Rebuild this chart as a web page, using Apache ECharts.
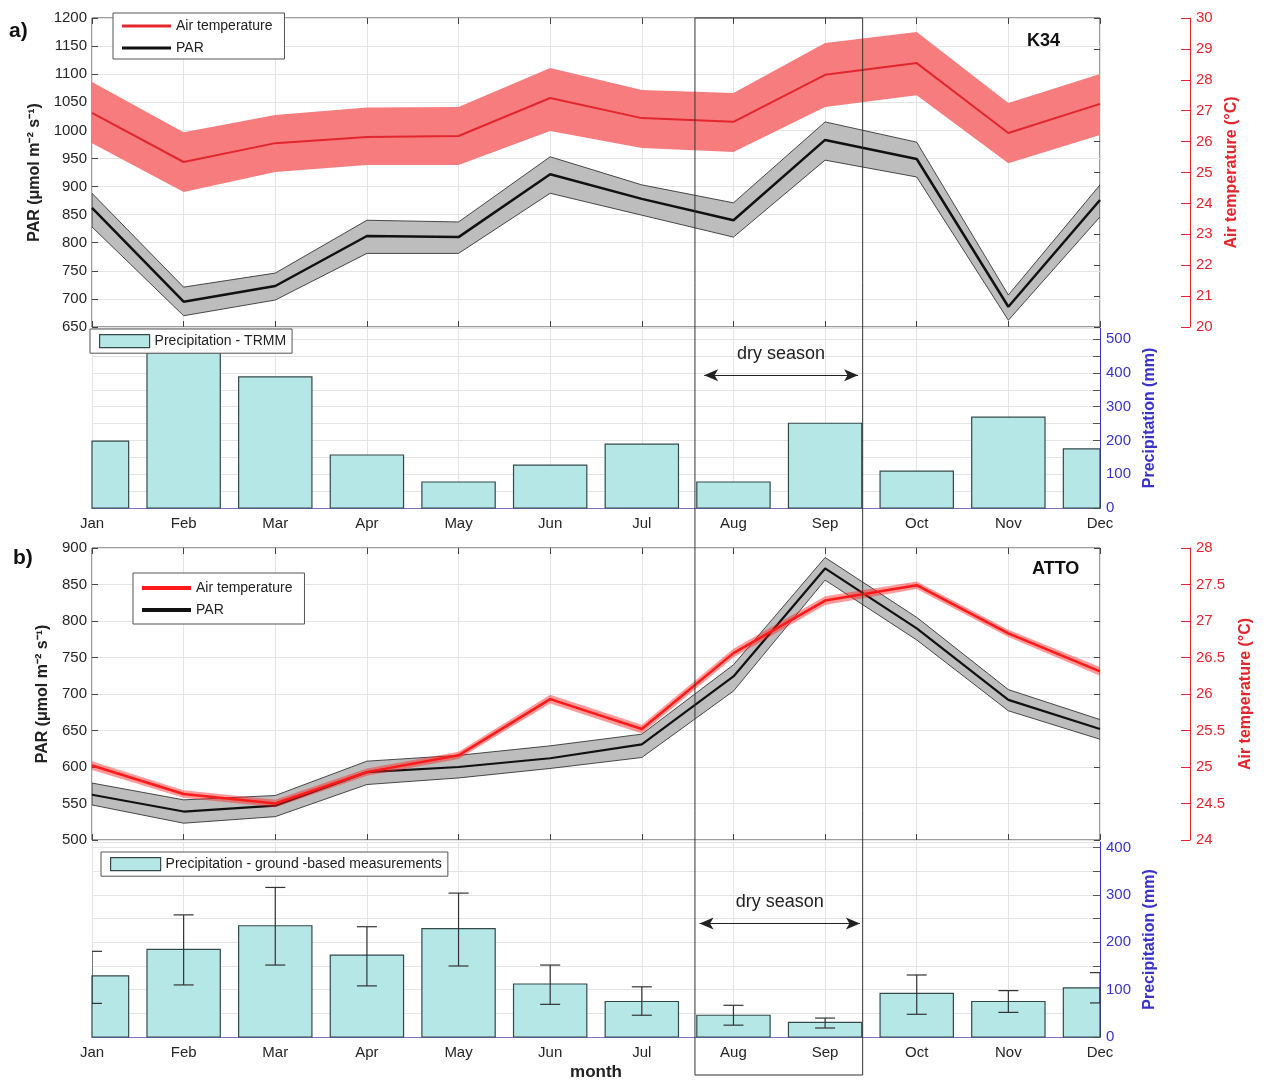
<!DOCTYPE html>
<html>
<head>
<meta charset="utf-8">
<script src="https://cdn.jsdelivr.net/npm/echarts@6/dist/echarts.min.js"></script>
<style>
  html, body { margin: 0; padding: 0; background: #fff; }
  #chart { width: 1266px; height: 1082px; }
</style>
</head>
<body>
<div id="chart"></div>
<script>
// ---- data -------------------------------------------------------------
const months = ['Jan', 'Feb', 'Mar', 'Apr', 'May', 'Jun', 'Jul', 'Aug', 'Sep', 'Oct', 'Nov', 'Dec'];

// K34 site
const parK34      = [862, 695, 723, 812, 810, 922, 878, 840, 983, 949, 686, 876];
const parK34Upper = [888, 721, 746, 840, 837, 953, 903, 871, 1015, 979, 707, 903];
const parK34Lower = [828, 670, 698, 781, 781, 888, 849, 810, 947, 917, 662, 846];
const tempK34      = [26.93, 25.34, 25.95, 26.15, 26.18, 27.41, 26.76, 26.64, 28.16, 28.54, 26.28, 27.22];
const tempK34Upper = [27.93, 26.30, 26.86, 27.10, 27.12, 28.38, 27.67, 27.57, 29.19, 29.55, 27.25, 28.19];
const tempK34Lower = [25.95, 24.37, 25.02, 25.24, 25.24, 26.34, 25.79, 25.66, 27.12, 27.50, 25.30, 26.21];
const precipTRMM   = [198, 459, 388, 157, 77, 127, 189, 77, 251, 109, 269, 175];

// ATTO site
const parATTO      = [562, 539, 547, 593, 600, 612, 631, 724, 872, 790, 692, 652];
const parATTOUpper = [578, 555, 561, 608, 616, 629, 645, 740, 887, 805, 706, 665];
const parATTOLower = [548, 523, 532, 576, 585, 598, 613, 704, 856, 774, 677, 638];
const tempATTO      = [25.02, 24.63, 24.50, 24.93, 25.16, 25.93, 25.52, 26.56, 27.28, 27.49, 26.83, 26.31];
const tempATTOUpper = [25.08, 24.68, 24.55, 24.98, 25.21, 25.99, 25.58, 26.62, 27.34, 27.54, 26.88, 26.37];
const tempATTOLower = [24.96, 24.58, 24.45, 24.88, 25.11, 25.87, 25.46, 26.50, 27.22, 27.44, 26.78, 26.25];
const precipGround     = [129, 185, 235, 173, 229, 112, 75, 46, 31, 92, 75, 104];
const precipGroundLow  = [71, 110, 152, 108, 150, 69, 46, 25, 19, 48, 52, 72];
const precipGroundHigh = [181, 258, 316, 233, 304, 152, 106, 67, 40, 131, 98, 136];

// dry season (month units on the x axis)
const dryBox = [7.58, 9.41];
const dryArrowK34 = [7.68, 9.36];
const dryArrowATTO = [7.63, 9.38];
const dryArrowLevelK34 = 393;
const dryArrowLevelATTO = 240;

// ---- helpers ----------------------------------------------------------
const FONT = 'Liberation Sans, Arial, Helvetica, sans-serif';
const RED = '#e3262e';
const BLUE = '#3a33c8';
const GRID_LINE = '#e4e4e4';
const BAR_FILL = '#b6e7e7';
const BAR_EDGE = '#34494a';

const pairs = arr => arr.map((v, i) => [i + 1, v]);

function rectOf(coordSys) {
  return { x: coordSys.x, y: coordSys.y, width: coordSys.width, height: coordSys.height };
}

function bandSeries(name, xi, yi, lower, upper, style, z) {
  return {
    type: 'custom', name, xAxisIndex: xi, yAxisIndex: yi, z, silent: true, clip: true,
    data: months.map((m, i) => [i + 1, lower[i], upper[i]]),
    renderItem(params, api) {
      if (params.dataIndex !== 0) return null;
      const pts = [];
      for (let i = 0; i < months.length; i++) pts.push(api.coord([i + 1, upper[i]]));
      for (let i = months.length - 1; i >= 0; i--) pts.push(api.coord([i + 1, lower[i]]));
      return { type: 'polygon', shape: { points: pts }, style };
    }
  };
}

function lineSeries(name, xi, yi, values, color, width, z) {
  return {
    type: 'line', name, xAxisIndex: xi, yAxisIndex: yi, z, silent: true,
    data: pairs(values), symbol: 'none', showSymbol: false,
    lineStyle: { color, width }, itemStyle: { color }
  };
}

// monthly bars, cut at the plot frame
function barSeries(name, xi, yi, values, arrow, arrowLevel) {
  return {
    type: 'custom', name, xAxisIndex: xi, yAxisIndex: yi, z: 3, silent: true,
    data: pairs(values),
    itemStyle: { color: BAR_FILL, borderColor: BAR_EDGE, borderWidth: 1.2 },
    renderItem(params, api) {
      const x = api.value(0);
      const top = api.coord([x, api.value(1)]);
      const base = api.coord([x, 0]);
      const w = api.size([1, 0])[0] * 0.8;
      const shape = echarts.graphic.clipRectByRect(
        { x: top[0] - w / 2, y: top[1], width: w, height: base[1] - top[1] },
        rectOf(params.coordSys)
      );
      return shape && {
        type: 'rect', shape,
        style: { fill: BAR_FILL, stroke: BAR_EDGE, lineWidth: 1.2 }
      };
    },
    markLine: {
      silent: true, symbol: ['arrow', 'arrow'], symbolSize: [9, 14], precision: 2,
      lineStyle: { color: '#222', width: 1.2, type: 'solid' },
      label: { show: true, position: 'middle', formatter: 'dry season', fontSize: 18, color: '#222', distance: 12, fontFamily: FONT },
      data: [[{ coord: [arrow[0], arrowLevel] }, { coord: [arrow[1], arrowLevel] }]]
    }
  };
}

function monthAxis(gridIndex, opts) {
  return Object.assign({
    type: 'value', gridIndex, min: 1, max: 12, interval: 1,
    axisLine: { show: false },
    axisTick: { show: true, inside: true, length: 6, lineStyle: { color: '#444' } },
    axisLabel: { show: false },
    splitLine: { show: true, lineStyle: { color: GRID_LINE, width: 1 } }
  }, opts);
}

const tickLabel = { fontSize: 15, color: '#262626', fontFamily: FONT, formatter: v => String(v) };
const axisNameStyle = (color) => ({ fontSize: 16, fontWeight: 'bold', color, fontFamily: FONT });

const monthLabel = {
  show: true, fontSize: 15, color: '#262626', fontFamily: FONT, margin: 8,
  formatter: v => months[Math.round(v) - 1] || ''
};

const legendBox = {
  selectedMode: false, borderColor: '#555', borderWidth: 1, backgroundColor: '#fff',
  textStyle: { fontSize: 14, color: '#222', fontFamily: FONT }
};

// ---- chart ------------------------------------------------------------
const chart = echarts.init(document.getElementById('chart'), null, { renderer: 'canvas' });

const option = {
  animation: false,
  backgroundColor: '#fff',
  textStyle: { fontFamily: FONT },
  grid: [
    { left: 92, top: 18, width: 1008, height: 309, show: true, borderColor: '#3a3a3a', borderWidth: 1 },
    { left: 92, top: 328, width: 1008, height: 180 },
    { left: 92, top: 548, width: 1008, height: 292, show: true, borderColor: '#3a3a3a', borderWidth: 1 },
    { left: 92, top: 842, width: 1008, height: 198 }
  ],
  xAxis: [
    monthAxis(0, {}),
    monthAxis(0, { position: 'top', splitLine: { show: false } }),
    monthAxis(1, {
      axisLine: { show: true, lineStyle: { color: '#7d70c8', width: 1 } },
      axisLabel: monthLabel
    }),
    monthAxis(2, {}),
    monthAxis(2, { position: 'top', splitLine: { show: false } }),
    monthAxis(3, {
      axisLine: { show: true, lineStyle: { color: '#7d70c8', width: 1 } },
      axisLabel: monthLabel,
      name: 'month', nameLocation: 'middle', nameGap: 27,
      nameTextStyle: { fontSize: 17, fontWeight: 'bold', color: '#222', fontFamily: FONT }
    })
  ],
  yAxis: [
    // 0: PAR K34
    {
      type: 'value', gridIndex: 0, position: 'left', min: 650, max: 1200, interval: 50,
      axisLine: { show: false },
      axisTick: { show: true, inside: true, length: 6, lineStyle: { color: '#444' } },
      axisLabel: Object.assign({}, tickLabel, { margin: 5 }),
      splitLine: { show: true, lineStyle: { color: GRID_LINE } },
      name: 'PAR (\u03bcmol m\u207b\u00b2 s\u207b\u00b9)', nameLocation: 'middle', nameRotate: 90, nameGap: 42,
      nameTextStyle: axisNameStyle('#222')
    },
    // 1: air temperature K34 (offset axis)
    {
      type: 'value', gridIndex: 0, position: 'right', offset: 90, min: 20, max: 30, interval: 1,
      axisLine: { show: true, lineStyle: { color: RED, width: 1 } },
      axisTick: { show: true, inside: true, length: 9, lineStyle: { color: RED } },
      axisLabel: Object.assign({}, tickLabel, { color: RED, margin: 6 }),
      splitLine: { show: false },
      name: 'Air temperature (\u00b0C)', nameLocation: 'middle', nameRotate: 90, nameGap: 32,
      nameTextStyle: axisNameStyle(RED)
    },
    // 2: temperature ticks on the plot frame
    {
      type: 'value', gridIndex: 0, position: 'right', min: 20, max: 30, interval: 1,
      axisLine: { show: false },
      axisTick: { show: true, inside: true, length: 6, lineStyle: { color: '#444' } },
      axisLabel: { show: false }, splitLine: { show: false }
    },
    // 3: TRMM precipitation
    {
      type: 'value', gridIndex: 1, position: 'right', min: 0, max: 533, interval: 50,
      axisLine: { show: true, lineStyle: { color: BLUE, width: 1 } },
      axisTick: { show: true, inside: true, length: 7, lineStyle: { color: '#555' } },
      axisLabel: Object.assign({}, tickLabel, {
        color: BLUE, margin: 6, showMaxLabel: false,
        formatter: v => (v % 100 === 0 && v <= 500) ? String(v) : ''
      }),
      splitLine: { show: true, lineStyle: { color: GRID_LINE } },
      name: 'Precipitation (mm)', nameLocation: 'middle', nameRotate: 90, nameGap: 38,
      nameTextStyle: axisNameStyle(BLUE)
    },
    // 4: PAR ATTO
    {
      type: 'value', gridIndex: 2, position: 'left', min: 500, max: 900, interval: 50,
      axisLine: { show: false },
      axisTick: { show: true, inside: true, length: 6, lineStyle: { color: '#444' } },
      axisLabel: Object.assign({}, tickLabel, { margin: 5 }),
      splitLine: { show: true, lineStyle: { color: GRID_LINE } },
      name: 'PAR (\u03bcmol m\u207b\u00b2 s\u207b\u00b9)', nameLocation: 'middle', nameRotate: 90, nameGap: 35,
      nameTextStyle: axisNameStyle('#222')
    },
    // 5: air temperature ATTO (offset axis)
    {
      type: 'value', gridIndex: 2, position: 'right', offset: 90, min: 24, max: 28, interval: 0.5,
      axisLine: { show: true, lineStyle: { color: RED, width: 1 } },
      axisTick: { show: true, inside: true, length: 9, lineStyle: { color: RED } },
      axisLabel: Object.assign({}, tickLabel, { color: RED, margin: 6 }),
      splitLine: { show: false },
      name: 'Air temperature (\u00b0C)', nameLocation: 'middle', nameRotate: 90, nameGap: 48,
      nameTextStyle: axisNameStyle(RED)
    },
    // 6: temperature ticks on the plot frame
    {
      type: 'value', gridIndex: 2, position: 'right', min: 24, max: 28, interval: 0.5,
      axisLine: { show: false },
      axisTick: { show: true, inside: true, length: 6, lineStyle: { color: '#444' } },
      axisLabel: { show: false }, splitLine: { show: false }
    },
    // 7: ground-based precipitation
    {
      type: 'value', gridIndex: 3, position: 'right', min: 0, max: 412, interval: 50,
      axisLine: { show: true, lineStyle: { color: BLUE, width: 1 } },
      axisTick: { show: true, inside: true, length: 7, lineStyle: { color: '#555' } },
      axisLabel: Object.assign({}, tickLabel, {
        color: BLUE, margin: 6, showMaxLabel: false,
        formatter: v => (v % 100 === 0 && v <= 400) ? String(v) : ''
      }),
      splitLine: { show: true, lineStyle: { color: GRID_LINE } },
      name: 'Precipitation (mm)', nameLocation: 'middle', nameRotate: 90, nameGap: 40,
      nameTextStyle: axisNameStyle(BLUE)
    }
  ],
  legend: [
    Object.assign({}, legendBox, {
      left: 113, top: 13, orient: 'vertical',
      padding: [6, 12, 4, 9], itemGap: 8, itemWidth: 49, itemHeight: 3,
      data: [
        { name: 'Air temperature', icon: 'rect', itemStyle: { color: RED } },
        { name: 'PAR', icon: 'rect', itemStyle: { color: '#111' } }
      ]
    }),
    Object.assign({}, legendBox, {
      left: 90, top: 329, padding: [5, 6, 5, 9], itemWidth: 50, itemHeight: 13,
      data: [{ name: 'Precipitation - TRMM', icon: 'rect',
        itemStyle: { color: BAR_FILL, borderColor: BAR_EDGE, borderWidth: 1.2 } }]
    }),
    Object.assign({}, legendBox, {
      left: 133, top: 573, orient: 'vertical',
      padding: [8, 12, 7, 9], itemGap: 8, itemWidth: 49, itemHeight: 4,
      data: [
        { name: 'Air temperature', icon: 'rect', itemStyle: { color: '#ff1a1a' } },
        { name: 'PAR', icon: 'rect', itemStyle: { color: '#111' } }
      ]
    }),
    Object.assign({}, legendBox, {
      left: 101, top: 852, padding: [5, 6, 5, 9], itemWidth: 50, itemHeight: 13,
      data: [{ name: 'Precipitation - ground -based measurements', icon: 'rect',
        itemStyle: { color: BAR_FILL, borderColor: BAR_EDGE, borderWidth: 1.2 } }]
    })
  ],
  series: [
    // K34 panel
    bandSeries('PAR K34 range', 0, 0, parK34Lower, parK34Upper,
      { fill: '#bdbdbd', stroke: '#222', lineWidth: 0.8 }, 2),
    bandSeries('Air temperature K34 range', 0, 1, tempK34Lower, tempK34Upper,
      { fill: '#f67c7e', stroke: null }, 2),
    lineSeries('PAR', 0, 0, parK34, '#111', 2.5, 4),
    lineSeries('Air temperature', 0, 1, tempK34, RED, 2, 4),
    barSeries('Precipitation - TRMM', 2, 3, precipTRMM, dryArrowK34, dryArrowLevelK34),

    // ATTO panel
    bandSeries('PAR ATTO range', 3, 4, parATTOLower, parATTOUpper,
      { fill: '#bdbdbd', stroke: '#222', lineWidth: 0.8 }, 2),
    lineSeries('PAR', 3, 4, parATTO, '#111', 2.2, 4),
    bandSeries('Air temperature ATTO range', 3, 5, tempATTOLower, tempATTOUpper,
      { fill: 'rgba(255,30,30,0.45)', stroke: null }, 5),
    lineSeries('Air temperature', 3, 5, tempATTO, '#ff1a1a', 2.5, 6),
    barSeries('Precipitation - ground -based measurements', 5, 7, precipGround, dryArrowATTO, dryArrowLevelATTO),
    {
      type: 'custom', name: 'precipitation spread', xAxisIndex: 5, yAxisIndex: 7, z: 5, silent: true, clip: true,
      data: months.map((m, i) => [i + 1, precipGroundLow[i], precipGroundHigh[i]]),
      renderItem(params, api) {
        const x = api.value(0);
        const lo = api.coord([x, api.value(1)]);
        const hi = api.coord([x, api.value(2)]);
        const w = 10;
        const st = { stroke: '#333', lineWidth: 1.2 };
        return {
          type: 'group', children: [
            { type: 'line', shape: { x1: lo[0], y1: lo[1], x2: hi[0], y2: hi[1] }, style: st },
            { type: 'line', shape: { x1: lo[0] - w, y1: lo[1], x2: lo[0] + w, y2: lo[1] }, style: st },
            { type: 'line', shape: { x1: hi[0] - w, y1: hi[1], x2: hi[0] + w, y2: hi[1] }, style: st }
          ]
        };
      }
    }
  ]
};

chart.setOption(option);

// dry-season frame spanning both panels, plus panel titles
const bx0 = chart.convertToPixel({ xAxisIndex: 0 }, dryBox[0]);
const bx1 = chart.convertToPixel({ xAxisIndex: 0 }, dryBox[1]);
const byTop = chart.convertToPixel({ yAxisIndex: 0 }, 1200);
const byBottom = chart.convertToPixel({ yAxisIndex: 7 }, 0) + 38;

chart.setOption({
  graphic: [
    {
      id: 'dryFrame', type: 'rect', z: 100, silent: true,
      shape: { x: bx0, y: byTop, width: bx1 - bx0, height: byBottom - byTop },
      style: { fill: 'none', stroke: '#333', lineWidth: 1 }
    },
    { id: 'tagA', type: 'text', left: 9, top: 21, z: 100,
      style: { text: 'a)', font: 'bold 21px ' + FONT, fill: '#111' } },
    { id: 'tagB', type: 'text', left: 13, top: 548, z: 100,
      style: { text: 'b)', font: 'bold 21px ' + FONT, fill: '#111' } },
    { id: 'siteA', type: 'text', left: 1027, top: 32, z: 100,
      style: { text: 'K34', font: 'bold 18px ' + FONT, fill: '#111' } },
    { id: 'siteB', type: 'text', left: 1032, top: 560, z: 100,
      style: { text: 'ATTO', font: 'bold 18px ' + FONT, fill: '#111' } }
  ]
});
</script>
</body>
</html>
